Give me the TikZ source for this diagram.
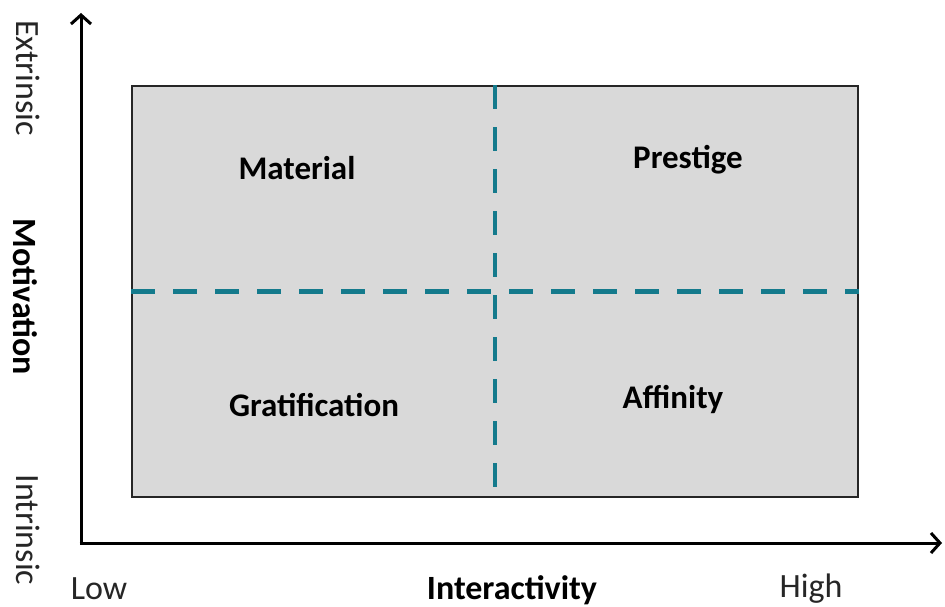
\documentclass[tikz,border=0pt]{standalone}
\usepackage{fontspec}
\setmainfont{Carlito}
\usetikzlibrary{arrows.meta}
\definecolor{quadfill}{RGB}{217,217,217}
\definecolor{divteal}{RGB}{20,122,140}
\definecolor{ticktext}{RGB}{38,38,38}
\tikzset{
  axisline/.style={line width=3pt, -{Straight Barb[length=9pt,width=20pt,line width=3pt]}},
  quadbox/.style={draw=black!85, line width=1.3pt, fill=quadfill, inner sep=0pt},
  divider/.style={draw=divteal, line width=4.5pt, dash pattern=on 24pt off 18pt},
  quadlabel/.style={font=\fontsize{33}{38}\selectfont\bfseries, text=black},
  ticklabel/.style={font=\fontsize{34}{39}\selectfont, text=ticktext, inner sep=0pt},
  axislabel/.style={font=\fontsize{34}{39}\selectfont\bfseries, text=black, inner sep=0pt},
}
\begin{document}
\begin{tikzpicture}[x=1pt, y=-1pt]
  \useasboundingbox (0,0) rectangle (945,607);

  % quadrant area
  \node[quadbox, minimum width=726pt, minimum height=411pt] (box) at (495,291.5) {};
  \draw[divider] (box.north) -- (box.south);
  \draw[divider] (box.west) -- (box.east);

  % axes
  \coordinate (origin) at (81,543);
  \coordinate (ytip) at (81,13);
  \coordinate (xtip) at (942,543);
  \draw[axisline] (origin.center) ++(0,1.5) -- (ytip);
  \draw[axisline] (origin.center) ++(-1.5,0) -- (xtip);

  % quadrant labels
  \node[quadlabel] (material) at (297,168) {Material};
  \node[quadlabel] (prestige) at (688,160) {Prestige};
  \node[quadlabel] (gratification) at (314,405) {Gratification};
  \node[quadlabel] (affinity) at (673,399) {Affinity};

  % vertical axis labels
  \node[ticklabel, rotate=-90] (extrinsic) at (28,78) {Extrinsic};
  \node[axislabel, rotate=-90] (motivation) at (25,297) {Motivation};
  \node[ticklabel, rotate=-90] (intrinsic) at (28,530) {Intrinsic};

  % horizontal axis labels
  \node[ticklabel] (low) at (99,589) {Low};
  \node[axislabel] (interactivity) at (512,590) {Interactivity};
  \node[ticklabel] (high) at (811,589) {High};
\end{tikzpicture}
\end{document}
